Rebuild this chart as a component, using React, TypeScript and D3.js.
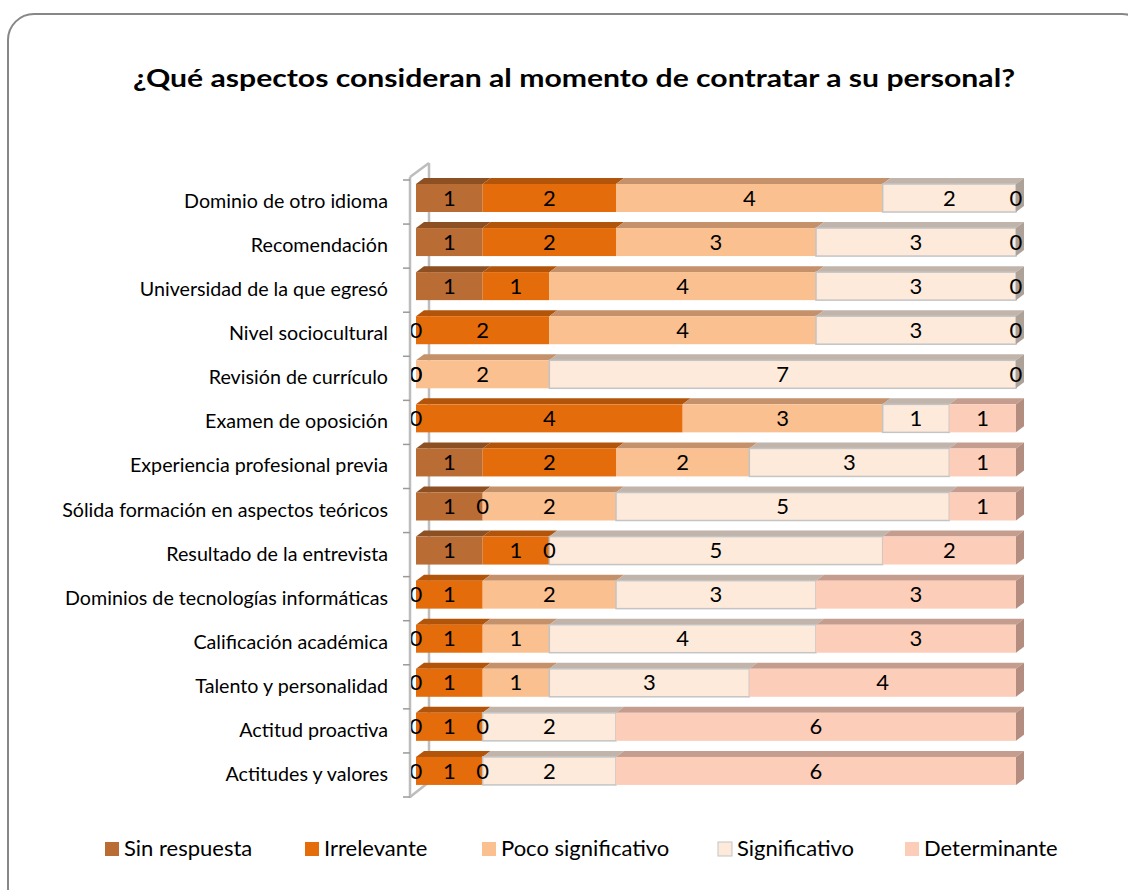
import React from "react";
import * as d3 from "d3";

const categories = [
  "Dominio de otro idioma",
  "Recomendación",
  "Universidad de la que egresó",
  "Nivel sociocultural",
  "Revisión de currículo",
  "Examen de oposición",
  "Experiencia profesional previa",
  "Sólida formación en aspectos teóricos",
  "Resultado de la entrevista",
  "Dominios de tecnologías informáticas",
  "Calificación académica",
  "Talento y personalidad",
  "Actitud proactiva",
  "Actitudes y valores",
];

const seriesNames = ["Sin respuesta", "Irrelevante", "Poco significativo", "Significativo", "Determinante"];

const sinRespuesta = [1, 1, 1, 0, 0, 0, 1, 1, 1, 0, 0, 0, 0, 0];
const irrelevante = [2, 2, 1, 2, 0, 4, 2, 0, 1, 1, 1, 1, 1, 1];
const pocoSignificativo = [4, 3, 4, 4, 2, 3, 2, 2, 0, 2, 1, 1, 0, 0];
const significativo = [2, 3, 3, 3, 7, 1, 3, 5, 5, 3, 4, 3, 2, 2];
const determinante = [0, 0, 0, 0, 0, 1, 1, 1, 2, 3, 3, 4, 6, 6];

const seriesValues = [sinRespuesta, irrelevante, pocoSignificativo, significativo, determinante];

const frontColors = ["#b96d35", "#e46c0a", "#fac090", "#fdeadb", "#fccdb9"];
const topColors = ["#8c5022", "#b2540a", "#c4916b", "#c0b4ab", "#c49d8e"];
const sideColors = ["#7a4520", "#9c4a08", "#b07f5c", "#ada198", "#b38d7f"];
const strokeColors = [null, null, null, "#c4c4c4", null];

const FONT = "Lato, 'Open Sans', 'DejaVu Sans', sans-serif";

export default function App() {
  const W = 1128;
  const H = 890;
  const x = d3.scaleLinear().domain([0, 9]).range([416, 1016]);
  const y = d3.scaleBand<string>().domain(categories).range([180, 797]).padding(0);
  const bw = y.bandwidth();
  const faceTop = 4;
  const faceH = 28;
  const dx = 8;
  const dy = 6;

  const stacked = categories.map((c, i) => {
    let acc = 0;
    return seriesValues.map((vals, s) => {
      const v = vals[i];
      const seg = { s, v, x0: acc, x1: acc + v };
      acc += v;
      return seg;
    });
  });

  const ticks = d3.range(categories.length + 1).map((k) => 180 + k * bw);

  return (
    <svg width={W} height={H} style={{ position: "absolute", left: 0, top: 0, background: "#fff" }}>
      <rect x={8} y={14} width={1140} height={900} rx={26} ry={26} fill="#fff" stroke="#878787" strokeWidth={2} />
      <text
        x={133}
        y={87}
        fontFamily={FONT}
        fontWeight="bold"
        fontSize={25}
        fill="#000"
        textLength={882}
        lengthAdjust="spacingAndGlyphs"
      >
        ¿Qué aspectos consideran al momento de contratar a su personal?
      </text>

      {/* back wall axis */}
      <g stroke="#bdbdbd" strokeWidth={2.5} fill="none">
        <line x1={429} y1={163} x2={429} y2={782} />
        <line x1={410} y1={177} x2={429} y2={163} />
        <line x1={410} y1={797} x2={429} y2={782} />
      </g>

      {/* bars */}
      {categories.map((c, i) => {
        const yf = (y(c) as number) + faceTop;
        const yb = yf + faceH;
        const segs = stacked[i];
        const last = [...segs].reverse().find((g) => g.v > 0)!;
        return (
          <g key={c}>
            {segs.filter((g) => g.v > 0).map((g) => {
              const a = x(g.x0);
              const b = x(g.x1);
              return (
                <g key={g.s}>
                  <polygon
                    points={`${a},${yf} ${b},${yf} ${b + dx},${yf - dy} ${a + dx},${yf - dy}`}
                    fill={topColors[g.s]}
                  />
                  <rect
                    x={a}
                    y={yf}
                    width={b - a}
                    height={faceH}
                    fill={frontColors[g.s]}
                    stroke={strokeColors[g.s] || "none"}
                    strokeWidth={strokeColors[g.s] ? 1.5 : 0}
                  />
                </g>
              );
            })}
            <polygon
              points={`${x(last.x1)},${yf} ${x(last.x1) + dx},${yf - dy} ${x(last.x1) + dx},${yb - dy} ${x(last.x1)},${yb}`}
              fill={sideColors[last.s]}
            />
            {segs.map((g) => (
              <text
                key={"l" + g.s}
                x={(x(g.x0) + x(g.x1)) / 2}
                y={yf + faceH / 2 + 2}
                textAnchor="middle"
                dominantBaseline="middle"
                fontFamily={FONT}
                fontSize={22}
                fill="#000"
              >
                {g.v}
              </text>
            ))}
            <text
              x={388}
              y={(y(c) as number) + bw / 2 + 1}
              textAnchor="end"
              dominantBaseline="middle"
              fontFamily={FONT}
              fontSize={19.7}
              fill="#000"
            >
              {c}
            </text>
          </g>
        );
      })}

      {/* front axis */}
      <g stroke="#bdbdbd" strokeWidth={2.5} fill="none">
        <line x1={410} y1={177} x2={410} y2={798} />
        {ticks.map((t, k) => (
          <line key={k} x1={403} y1={t} x2={410} y2={t} stroke="#9a9a9a" strokeWidth={1.5} />
        ))}
      </g>

      {/* legend */}
      {seriesNames.map((n, s) => {
        const lx = [105, 305, 482, 718, 905][s];
        return (
          <g key={n}>
            <rect
              x={lx}
              y={842}
              width={14}
              height={14}
              fill={frontColors[s]}
              stroke={strokeColors[s] || "none"}
              strokeWidth={strokeColors[s] ? 1 : 0}
            />
            <text x={lx + 19} y={850} dominantBaseline="middle" fontFamily={FONT} fontSize={22} fill="#000">
              {n}
            </text>
          </g>
        );
      })}
    </svg>
  );
}
